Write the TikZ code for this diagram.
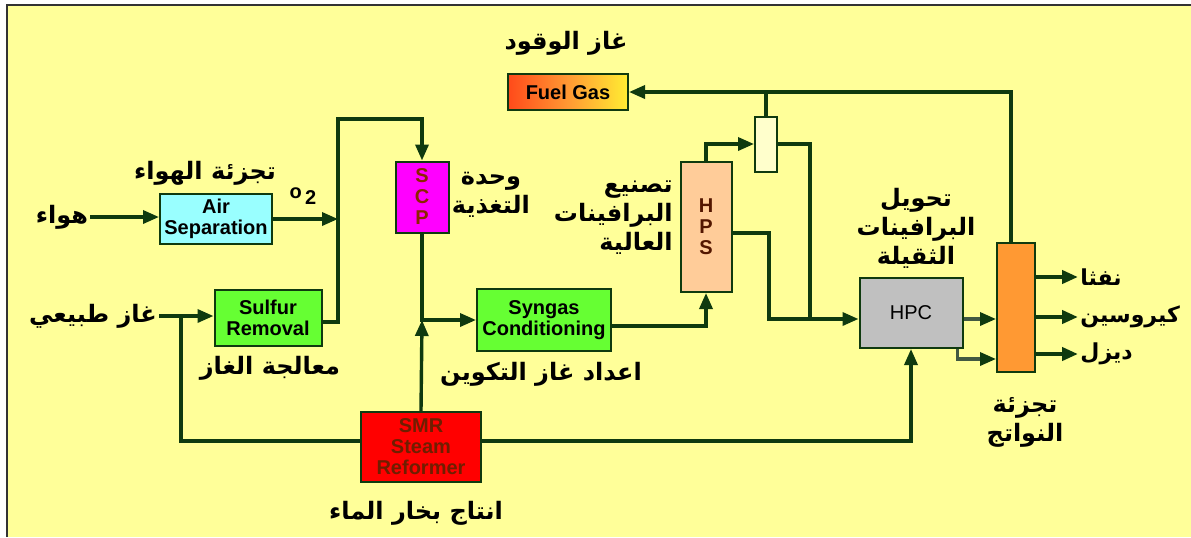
\documentclass[tikz,border=0pt]{standalone}
\usepackage{fontspec}
\setmainfont{Liberation Sans}
\newfontfamily\arabicfont[Script=Arabic]{DejaVu Sans}
\TeXXeTstate=1
\usetikzlibrary{arrows.meta,positioning,calc}
\definecolor{bgyel}{HTML}{FFFF99}
\definecolor{ink}{HTML}{0F3A0F}
\definecolor{frame}{HTML}{333333}
\definecolor{airc}{HTML}{99FFFF}
\definecolor{grn}{HTML}{66FF33}
\definecolor{mag}{HTML}{FF00FF}
\definecolor{peach}{HTML}{FFCC99}
\definecolor{cream}{HTML}{FFFFCC}
\definecolor{gry}{HTML}{C0C0C0}
\definecolor{orng}{HTML}{FF9933}
\definecolor{redc}{HTML}{FF0000}
\definecolor{brn}{HTML}{8B2500}
\definecolor{fgred}{HTML}{FF4A1A}
\definecolor{fgyel}{HTML}{FFEE33}
\newcommand{\artxt}[1]{\beginR #1\endR}
\tikzset{
  unit/.style={rectangle,draw=ink,line width=1pt,fill=#1,
               minimum width=40pt,minimum height=20pt,
               font=\fontsize{10}{10.5}\selectfont\bfseries,align=center,
               inner sep=1pt},
  lbl/.style={font=\arabicfont\bfseries\fontsize{12}{14.5}\selectfont,
              align=center,inner sep=1pt},
  plbl/.style={lbl,anchor=west,font=\arabicfont\bfseries\fontsize{11}{13}\selectfont},
  pipe/.style={line width=1.7pt,draw=ink},
  arr/.style={pipe,-{Triangle[length=8pt,width=6.5pt,color=ink]}},
  garr/.style={arr,draw=ink!55!gray},
  parr/.style={arr,line width=2.4pt},
}

\begin{document}
\begin{tikzpicture}[x=0.5pt,y=-0.5pt]
  \useasboundingbox (0,0) rectangle (1191,537);
  \fill[white] (0,0) rectangle (1191,537);
  \fill[bgyel] (7,5) rectangle (1191,537);
  \draw[frame,line width=1.2pt] (7,537) -- (7,5) -- (1191,5);

  \node[unit=airc,minimum width=56pt,minimum height=25pt] (airsep) at (216,219) {Air\\Separation};
  \node[unit=grn,minimum width=53.5pt,minimum height=28pt] (sulfur) at (268,318) {Sulfur\\Removal};
  \node[unit=mag,minimum width=26.5pt,minimum height=35.5pt,text=brn] (scp) at (422,197) {S\\C\\P};
  \node[unit=grn,minimum width=67pt,minimum height=31pt] (syngas) at (544,320) {Syngas\\Conditioning};
  \node[unit=redc,minimum width=60pt,minimum height=35pt,text=brn!80!black] (smr) at (421,447) {SMR\\Steam\\Reformer};
  \node[unit=orng,minimum width=60pt,minimum height=18pt,left color=fgred,right color=fgyel,
        middle color=orng] (fuel) at (568,92) {Fuel Gas};
  \node[unit=peach,minimum width=25.5pt,minimum height=65pt,text=brn!60!black] (hps) at (706,227) {H\\P\\S};
  \node[unit=cream,minimum width=11pt,minimum height=27.5pt] (col) at (766,144) {};
  \node[unit=gry,minimum width=51.5pt,minimum height=35pt,font=\fontsize{10}{11}\selectfont] (hpc) at (911,313) {HPC};
  \node[unit=orng,minimum width=19pt,minimum height=64.5pt] (frac) at (1016,307) {};

  \node[lbl] (hawa) at (62,217) {\artxt{هواء}};
  \node[lbl] (airlbl) at (205,173) {\artxt{تجزئة الهواء}};
  \node[font=\fontsize{10}{11}\selectfont\bfseries] (oxy) at (303,196) {o\,\raisebox{-3pt}{2}};
  \node[lbl] (gas) at (93,316) {\artxt{غاز طبيعي}};
  \node[lbl] (sullbl) at (270,368) {\artxt{معالجة الغاز}};
  \node[lbl] (scplbl) at (491,195) {\artxt{وحدة}\\\artxt{التغذية}};
  \node[lbl] (fuellbl) at (566,43) {\artxt{غاز الوقود}};
  \node[lbl,anchor=east,align=right] (hpslbl) at (675,218) {\artxt{تصنيع}\\\artxt{البرافينات}\\\artxt{العالية}};
  \node[lbl] (synlbl) at (541,374) {\artxt{اعداد غاز التكوين}};
  \node[lbl] (smrlbl) at (416,513) {\artxt{انتاج بخار الماء}};
  \node[lbl] (hpclbl) at (916,228) {\artxt{تحويل}\\\artxt{البرافينات}\\\artxt{الثقيلة}};
  \node[lbl] (fraclbl) at (1025,422) {\artxt{تجزئة}\\\artxt{النواتج}};
  \node[plbl] (naft) at (1078,277) {\artxt{نفثا}};
  \node[plbl] (kero) at (1078,317) {\artxt{كيروسين}};
  \node[plbl] (dsl) at (1078,354) {\artxt{ديزل}};

  \coordinate (o2j) at (338,219);
  \coordinate (top1) at (338,119);
  \coordinate (ngj) at (181,316);
  \coordinate (synj) at (422,320);
  \coordinate (fgj) at (766,91);
  \coordinate (hpsj) at (769,319);
  \coordinate (hpcj) at (810,319);
  \coordinate (hpco) at ([yshift=-3pt]hpc.east);
  \coordinate (hpcb) at ([xshift=-3pt]hpc.south east);

  \draw[arr] (hawa.east) -- (hawa.east -| airsep.west);
  \draw[arr] (airsep.east) -- (o2j);
  \draw[arr] ([yshift=-2pt]sulfur.east) -| (top1) -| (scp.north);
  \draw[arr] (gas.east) -- (gas.east -| sulfur.west);
  \draw[pipe] (ngj) |- ([yshift=3pt]smr.west);
  \draw[arr] ([yshift=3pt]smr.east) -| (hpc.south);
  \draw[arr] (smr.north) -- (synj);
  \draw[arr] (scp.south) |- (syngas.west);
  \draw[arr] ([yshift=-3pt]syngas.east) -| (hps.south);
  \draw[arr] (hps.north) |- (col.west);
  \draw[pipe] (col.north) -- (fgj);
  \draw[arr] ([xshift=-2.5pt]frac.north) |- (fuel.east);
  \draw[pipe] (col.east) -| (hpcj);
  \draw[arr] ([yshift=-3pt]hps.east) -| (hpsj) -- (hpsj -| hpc.west);
  \draw[garr] (hpco) -- (hpco -| frac.west);
  \draw[garr] (hpcb) |- ([yshift=-26pt]frac.west);
  \draw[parr] (naft.west -| frac.east) -- (naft.west);
  \draw[parr] (kero.west -| frac.east) -- (kero.west);
  \draw[parr] (dsl.west -| frac.east) -- (dsl.west);
\end{tikzpicture}
\end{document}
